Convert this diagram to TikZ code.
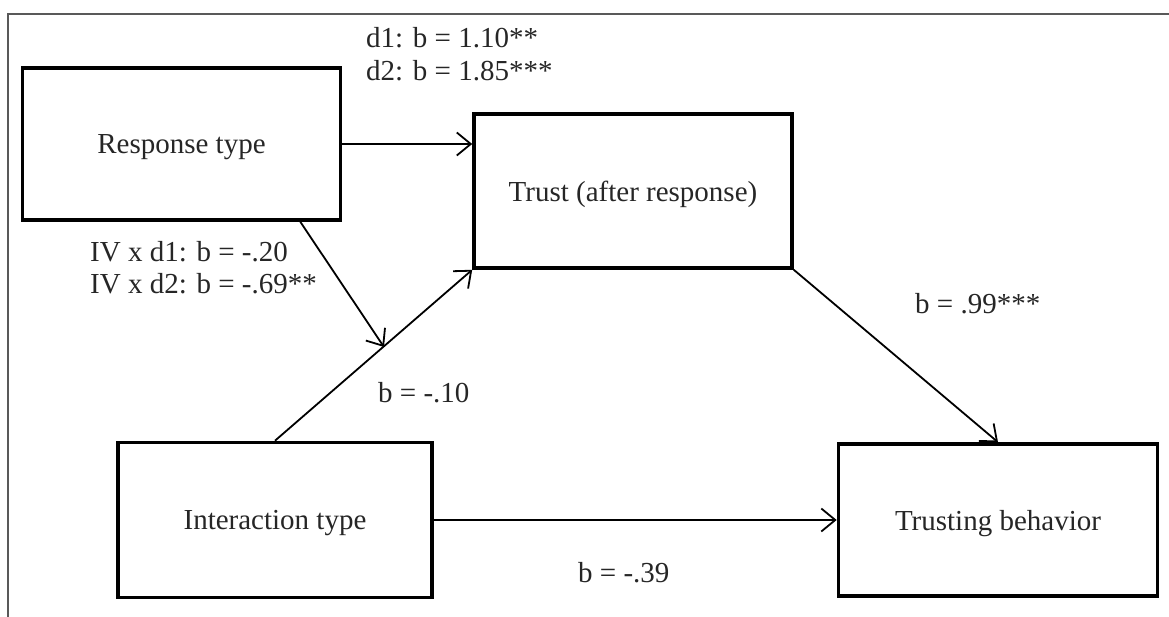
\documentclass[tikz,border=0pt]{standalone}
\usepackage{fontspec}
\setmainfont{Liberation Serif}
\usetikzlibrary{arrows.meta}
\begin{document}
\begin{tikzpicture}[
        x=1pt, y=-1pt,
        every node/.style={font=\fontsize{29}{33}\selectfont, text=black!85},
        varbox/.style={draw=black, line width=3.6pt, text depth=0pt, minimum width=318pt, minimum height=152pt},
        path/.style={draw, line width=1.8pt, -{Straight Barb[length=14pt,width=23pt,line width=1.8pt]}},
        coef/.style={anchor=base west, inner sep=0pt},
        ]
    \useasboundingbox (0,0) rectangle (1169,617);
    % frame
    \draw [gray!70!black, line width=1.4pt] (8,617) -- (8,14) -- (1169,14);
    % variables
    \node (resp) [varbox] at (181.5,144) {Response type};
    \node (trust) [varbox, minimum height=154pt] at (633,191) {Trust (after response)};
    \node (inter) [varbox, minimum width=314pt, minimum height=155pt] at (275,520) {Interaction type};
    \node (behav) [varbox, minimum width=319pt] at (998,520) {Trusting behavior};
    % paths
    \coordinate (rfoot) at ([xshift=-42pt]resp.south east);
    \coordinate (moder) at (384,347);
    \draw [path] (resp.east) -- (resp.east -| trust.west);
    \draw [path] (inter.north) -- (trust.south west);
    \draw [path] (rfoot) -- (moder);
    \draw [path] (trust.south east) -- (behav.north);
    \draw [path] (inter.east) -- (inter.east -| behav.west);
    % coefficients
    \node (c1) [coef] at (366,48) {d1: b = 1.10**};
    \node (c2) [coef] at (366,81) {d2: b = 1.85***};
    \node (c3) [coef] at (90,262) {IV x d1: b = -.20};
    \node (c4) [coef] at (90,294) {IV x d2: b = -.69**};
    \node (c5) [coef] at (378,402) {b = -.10};
    \node (c6) [coef] at (915,313) {b = .99***};
    \node (c7) [coef] at (578,582) {b = -.39};
\end{tikzpicture}
\end{document}
